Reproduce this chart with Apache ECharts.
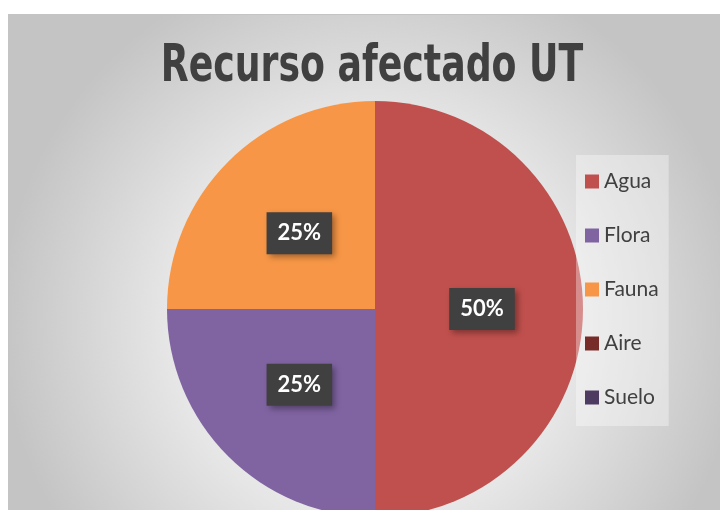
<!DOCTYPE html>
<html lang="es">
<head>
	<meta charset="UTF-8">
	<title>Recurso afectado UT</title>
	<script src="https://cdn.jsdelivr.net/npm/echarts@6/dist/echarts.min.js"></script>
	<style>
		body { margin: 0; background: #fff; }
		#pie { position: absolute; left: 8px; top: 14px; width: 712px; height: 496px;
			border-top: 1px solid #c4c4c4; border-left: 1px solid #c4c4c4; box-sizing: border-box; }
	</style>
</head>
<body>
	<div id="pie"></div>
	<script>
		var categories = ['Agua', 'Flora', 'Fauna', 'Aire', 'Suelo'];
		var values = [2, 1, 1, 0, 0];
		var colors = ['#C0504D', '#8064A2', '#F79646', '#772C2A', '#4D3B62'];
		var titleText = 'Recurso afectado UT';

		var data = [];
		for (var i = 0; i < categories.length; i++) {
			data.push({
				name: categories[i],
				value: values[i],
				itemStyle: { color: colors[i] },
				label: { show: values[i] > 0 }
			});
		}

		var myChart = echarts.init(document.getElementById('pie'));
		var option = {
			backgroundColor: new echarts.graphic.RadialGradient(0.51, 0.62, 0.75, [
				{ offset: 0, color: '#ffffff' },
				{ offset: 0.55, color: '#e6e6e6' },
				{ offset: 1, color: '#c4c4c4' }
			]),
			animation: false,
			// condensed title, squeezed horizontally
			graphic: [{
				type: 'text',
				x: 363,
				y: 78,
				scaleX: 0.775,
				style: {
					text: titleText,
					font: 'bold 52px "DejaVu Sans Condensed"',
					fill: '#404040',
					textAlign: 'center',
					textVerticalAlign: 'bottom'
				}
			}],
			legend: {
				orient: 'vertical',
				left: 567,
				top: 140,
				padding: [16, 10, 18, 9],
				backgroundColor: 'rgba(255,255,255,0.35)',
				itemWidth: 14,
				itemHeight: 14,
				itemGap: 33,
				icon: 'rect',
				data: categories,
				textStyle: {
					fontFamily: 'Lato',
					fontSize: 21,
					color: '#404040'
				}
			},
			series: [{
				type: 'pie',
				center: [366, 294],
				radius: 208,
				startAngle: 90,
				clockwise: true,
				data: data,
				labelLine: { show: false },
				label: {
					position: 'inside',
					formatter: '{d}%',
					fontFamily: 'Lato',
					fontWeight: 'bold',
					fontSize: 22,
					color: '#ffffff',
					backgroundColor: '#404040',
					padding: [10, 11, 10, 11],
					shadowColor: 'rgba(0,0,0,0.35)',
					shadowBlur: 6,
					shadowOffsetX: 3,
					shadowOffsetY: 3
				},
				emphasis: { disabled: true }
			}]
		};
		myChart.setOption(option);
	</script>
</body>
</html>
